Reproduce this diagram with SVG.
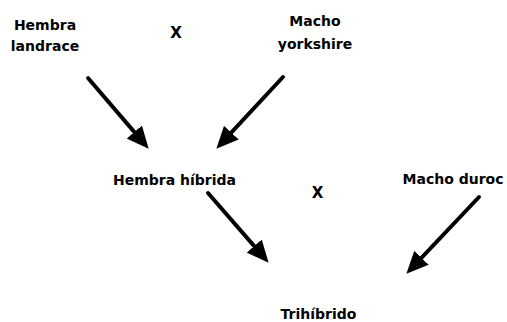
<svg xmlns="http://www.w3.org/2000/svg" width="507" height="322" viewBox="0 0 507 322">
<style>
text{font-family:"DejaVu Sans","Liberation Sans",sans-serif;font-weight:bold;font-size:14px;fill:#000;text-anchor:middle}
.x{font-size:15px}
.c{stroke:#000;stroke-width:4;fill:none;stroke-linecap:round}
</style>
<defs>
<marker id="ah" markerUnits="userSpaceOnUse" viewBox="0 0 22 20" markerWidth="22" markerHeight="20" refX="9" refY="10" orient="auto">
<path d="M0,0 L22,10 L0,20 z" fill="#000"/>
</marker>
</defs>
<rect width="507" height="322" fill="#fff"/>
<g id="hembra-landrace"><text x="45" y="30">Hembra</text><text x="45" y="51">landrace</text></g>
<g id="cruce1"><text class="x" x="176" y="38">X</text></g>
<g id="macho-yorkshire"><text x="315" y="26">Macho</text><text x="315" y="49">yorkshire</text></g>
<g id="hembra-hibrida"><text x="174.5" y="185">Hembra híbrida</text></g>
<g id="cruce2"><text class="x" x="317.5" y="198">X</text></g>
<g id="macho-duroc"><text x="453" y="184">Macho duroc</text></g>
<g id="trihibrido"><text x="318.5" y="319">Trihíbrido</text></g>
<g id="connectors">
<line class="c" x1="88" y1="78" x2="140.2" y2="138.9" marker-end="url(#ah)"/>
<line class="c" x1="283" y1="77" x2="225.2" y2="139.2" marker-end="url(#ah)"/>
<line class="c" x1="208" y1="193" x2="260.1" y2="252.9" marker-end="url(#ah)"/>
<line class="c" x1="479" y1="197" x2="415.3" y2="264.3" marker-end="url(#ah)"/>
</g>
</svg>
